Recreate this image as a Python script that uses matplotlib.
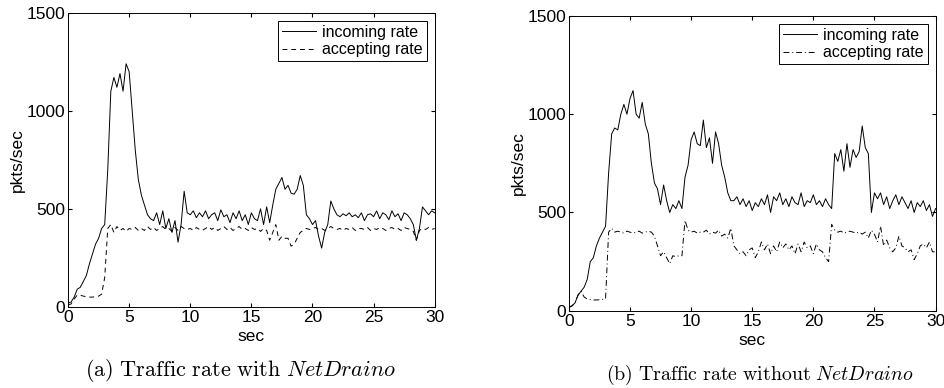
import numpy as np
import matplotlib
matplotlib.use("Agg")
import matplotlib.pyplot as plt

plt.rcParams['font.family'] = ['Liberation Sans', 'DejaVu Sans']
plt.rcParams['mathtext.fontset'] = 'cm'

# time axis, one sample every 0.25 s
t = np.linspace(0, 30, 121)

# (a) with NetDraino
a_in = [20, 25, 50, 90, 100, 130, 160, 220, 270, 320, 350, 400,
        420, 700, 1100, 1170, 1120, 1190, 1100, 1240, 1200, 1000, 800, 650,
        570, 520, 470, 450, 440, 480, 420, 490, 400, 450, 380, 440,
        330, 420, 590, 480, 470, 490, 455, 480, 460, 490, 450, 470,
        480, 440, 495, 460, 470, 430, 480, 450, 490, 440, 470, 420,
        480, 450, 440, 500, 420, 510, 430, 520, 600, 630, 660, 600,
        620, 580, 575, 600, 670, 620, 470, 450, 420, 440, 360, 300,
        380, 420, 540, 500, 470, 460, 475, 465, 480, 460, 470, 455,
        480, 440, 470, 475, 460, 490, 450, 480, 470, 445, 490, 460,
        475, 440, 480, 470, 450, 420, 340, 400, 510, 490, 470, 490,
        480]
a_acc = [10, 15, 40, 60, 60, 55, 52, 50, 50, 52, 55, 65,
         150, 400, 420, 380, 410, 390, 400, 385, 400, 395, 405, 390,
         400, 390, 410, 395, 405, 390, 400, 410, 395, 400, 385, 405,
         390, 410, 400, 395, 400, 390, 405, 395, 390, 400, 410, 395,
         405, 390, 400, 410, 395, 405, 390, 400, 410, 395, 400, 390,
         405, 395, 400, 385, 400, 390, 340, 380, 420, 340, 360, 350,
         350, 310, 320, 350, 380, 390, 400, 395, 400, 405, 395, 400,
         390, 400, 410, 400, 395, 400, 390, 400, 395, 405, 390, 400,
         400, 395, 405, 390, 400, 395, 405, 400, 390, 400, 405, 395,
         400, 390, 405, 400, 395, 385, 340, 390, 400, 395, 405, 395,
         400]

# (b) without NetDraino
b_in = [20, 25, 40, 80, 100, 120, 160, 250, 270, 330, 370, 400,
        430, 700, 900, 930, 920, 1000, 1050, 1000, 1080, 1120, 1000, 980,
        1060, 950, 900, 750, 650, 620, 540, 640, 560, 500, 540, 520,
        560, 520, 680, 740, 870, 910, 850, 840, 970, 830, 880, 750,
        910, 850, 740, 680, 600, 560, 560, 580, 540, 570, 530, 560,
        510, 550, 530, 570, 540, 590, 500, 580, 560, 600, 540, 570,
        530, 580, 550, 540, 600, 530, 560, 550, 590, 540, 560, 530,
        570, 540, 520, 800, 760, 820, 710, 850, 730, 820, 780, 810,
        940, 830, 800, 500, 600, 570, 600, 540, 580, 520, 560, 590,
        540, 580, 550, 520, 560, 500, 550, 530, 560, 510, 540, 480,
        520]
b_acc = [15, 25, 40, 80, 100, 70, 60, 58, 55, 55, 56, 58,
         60, 400, 420, 400, 405, 400, 395, 405, 400, 395, 400, 405,
         395, 400, 405, 400, 380, 330, 280, 300, 270, 240, 280, 275,
         280, 280, 460, 410, 400, 405, 395, 400, 400, 410, 390, 400,
         395, 410, 380, 390, 370, 420, 330, 310, 290, 300, 280, 310,
         320, 270, 300, 350, 310, 340, 290, 330, 300, 350, 320, 340,
         310, 330, 290, 340, 300, 350, 320, 330, 290, 340, 310, 300,
         270, 250, 440, 410, 400, 405, 395, 400, 405, 400, 395, 400,
         390, 400, 370, 410, 390, 350, 430, 330, 360, 320, 300, 320,
         380, 330, 320, 300, 310, 260, 290, 330, 340, 320, 350, 300,
         300]

fig = plt.figure(figsize=(9.45, 3.88), dpi=100)
ax1 = fig.add_axes([0.072, 0.209, 0.388, 0.758])
ax2 = fig.add_axes([0.602, 0.199, 0.388, 0.760])

panels = [(ax1, a_in, a_acc, (0, (5, 4))), (ax2, b_in, b_acc, (0, (6, 3, 1, 3)))]
for ax, inc, acc, ls in panels:
    ax.plot(t, inc, color='black', lw=0.7, label='incoming rate')
    ax.plot(t, acc, color='black', lw=0.7, linestyle=ls, label='accepting rate')
    ax.set_xlim(0, 30)
    ax.set_ylim(0, 1500)
    ax.set_xticks([0, 5, 10, 15, 20, 25, 30])
    ax.set_yticks([0, 500, 1000, 1500])
    ax.tick_params(direction='in', top=True, right=True, labelsize=12.5, length=3, pad=2)
    ax.set_xlabel('sec', fontsize=12.5, labelpad=3)
    ax.set_ylabel('pkts/sec', fontsize=12.5, labelpad=1)
    leg = ax.legend(loc='upper right', fontsize=11.5, fancybox=False, edgecolor='black',
                    handlelength=2.1, handletextpad=0.4, borderpad=0.25,
                    labelspacing=0.15, borderaxespad=0.5, framealpha=1)
    leg.get_frame().set_linewidth(0.7)
    for s in ax.spines.values():
        s.set_linewidth(0.7)

fig.text(0.254, 0.03, r'$\mathrm{(a)\ Traffic\ rate\ with\ }\mathit{NetDraino}$',
         ha='center', fontsize=16)
fig.text(0.804, 0.02, r'$\mathrm{(b)\ Traffic\ rate\ without\ }\mathit{NetDraino}$',
         ha='center', fontsize=14.3)

fig.savefig('out.png', dpi=100)
